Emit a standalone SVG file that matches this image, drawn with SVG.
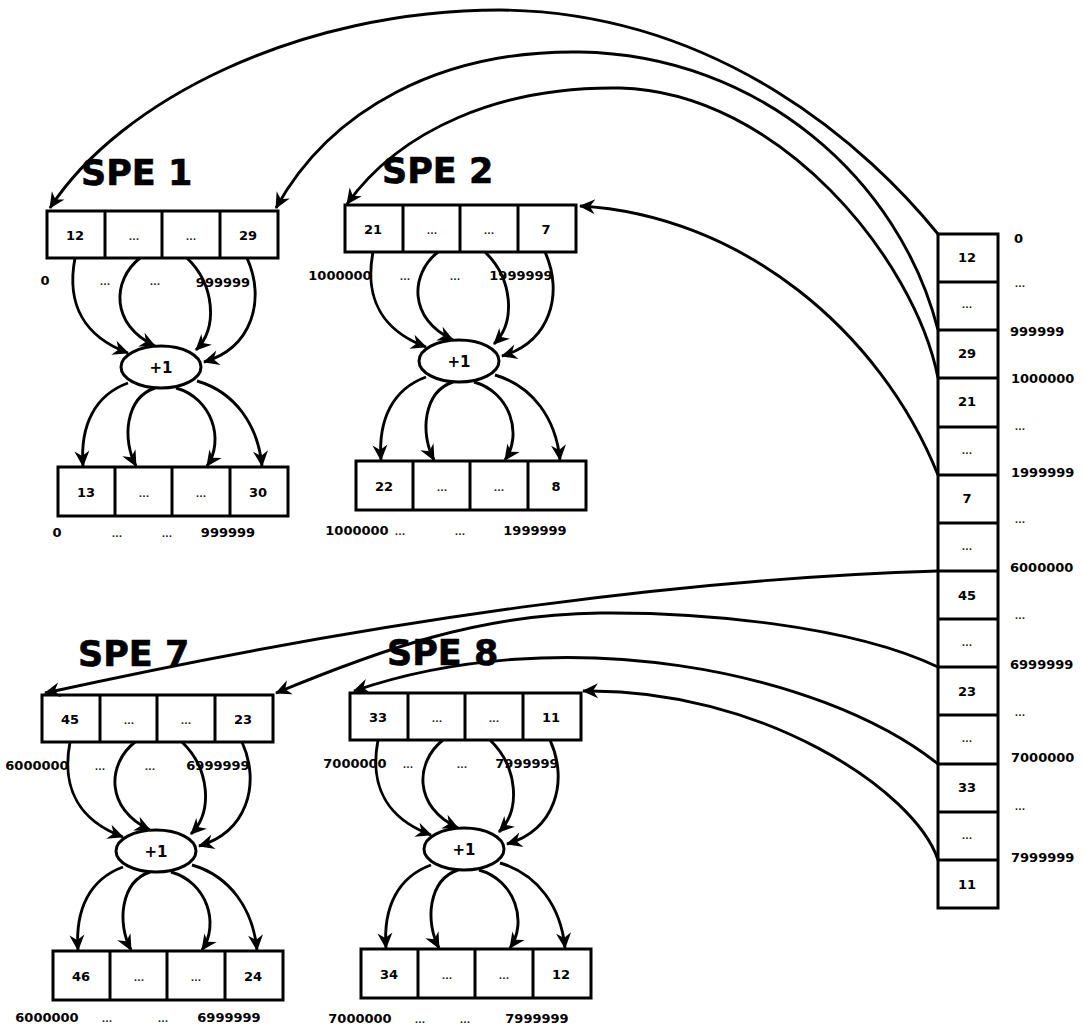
<svg xmlns="http://www.w3.org/2000/svg" xmlns:xlink="http://www.w3.org/1999/xlink" width="1084" height="1035" viewBox="0 0 1084 1035">
  <style>
    .box { fill: #fff; stroke: #000; stroke-width: 3; }
    .div { stroke: #000; stroke-width: 3; }
    .wire { fill: none; stroke: #000; stroke-width: 2.9; marker-end: url(#ah); }
    .num { font-family: "DejaVu Sans", "Liberation Sans", sans-serif; font-weight: bold; font-size: 13px; fill: #000; text-anchor: middle; }
    .op { font-family: "DejaVu Sans", "Liberation Sans", sans-serif; font-weight: bold; font-size: 15px; fill: #000; text-anchor: middle; }
    .dots { font-family: "DejaVu Sans", "Liberation Sans", sans-serif; font-weight: bold; font-size: 9px; fill: #222; text-anchor: middle; }
    .idx { font-family: "DejaVu Sans", "Liberation Sans", sans-serif; font-weight: bold; font-size: 13px; fill: #000; }
    .title { font-family: "DejaVu Sans", "Liberation Sans", sans-serif; font-weight: bold; font-size: 35px; fill: #000; stroke: #000; stroke-width: 0.6; }
  </style>
  <defs>
    <marker id="ah" viewBox="-17 -9 19 18" markerWidth="19" markerHeight="18" refX="0" refY="0" orient="auto" markerUnits="userSpaceOnUse">
      <path d="M1,0 L-15,-7.5 L-10,0 L-15,7.5 Z" fill="#000"/>
    </marker>
    <!-- one SPE: input row, "+1" kernel, output row and the flows between them -->
    <g id="spe-frame">
      <rect class="box" x="47" y="211" width="231" height="47"/>
      <line class="div" x1="105" y1="211" x2="105" y2="258"/>
      <line class="div" x1="162" y1="211" x2="162" y2="258"/>
      <line class="div" x1="220" y1="211" x2="220" y2="258"/>
      <rect class="box" x="58" y="467" width="230" height="49"/>
      <line class="div" x1="115" y1="467" x2="115" y2="516"/>
      <line class="div" x1="172" y1="467" x2="172" y2="516"/>
      <line class="div" x1="230" y1="467" x2="230" y2="516"/>
      <ellipse cx="161" cy="367" rx="40" ry="21" fill="#fff" stroke="#000" stroke-width="3"/>
      <text class="op" x="161" y="373">+1</text>
      <path class="wire" d="M75,258 C 66,305 85,337 128,353"/>
      <path class="wire" d="M140,258 C 112,280 110,325 155,346"/>
      <path class="wire" d="M187,258 C 215,285 218,328 196,350"/>
      <path class="wire" d="M247,258 C 266,300 252,348 204,362"/>
      <path class="wire" d="M128,383 C 95,395 80,425 83,466"/>
      <path class="wire" d="M155,388 C 125,398 122,440 136,466"/>
      <path class="wire" d="M176,388 C 212,398 225,440 207,466"/>
      <path class="wire" d="M197,381 C 235,392 258,425 262,466"/>
    </g>
  </defs>

  <rect width="1084" height="1035" fill="#fff"/>

  <!-- main array in memory -->
  <g id="main-array">
    <rect class="box" x="938" y="234" width="60" height="674"/>
    <g class="div">
      <line x1="938" y1="282" x2="998" y2="282"/>
      <line x1="938" y1="330" x2="998" y2="330"/>
      <line x1="938" y1="378" x2="998" y2="378"/>
      <line x1="938" y1="427" x2="998" y2="427"/>
      <line x1="938" y1="475" x2="998" y2="475"/>
      <line x1="938" y1="523" x2="998" y2="523"/>
      <line x1="938" y1="571" x2="998" y2="571"/>
      <line x1="938" y1="619" x2="998" y2="619"/>
      <line x1="938" y1="667" x2="998" y2="667"/>
      <line x1="938" y1="715" x2="998" y2="715"/>
      <line x1="938" y1="764" x2="998" y2="764"/>
      <line x1="938" y1="812" x2="998" y2="812"/>
      <line x1="938" y1="860" x2="998" y2="860"/>
    </g>
    <text class="num" x="967" y="262">12</text>
    <text class="dots" x="967" y="308">...</text>
    <text class="num" x="967" y="358">29</text>
    <text class="num" x="967" y="406">21</text>
    <text class="dots" x="967" y="454">...</text>
    <text class="num" x="967" y="503">7</text>
    <text class="dots" x="967" y="550">...</text>
    <text class="num" x="967" y="600">45</text>
    <text class="dots" x="967" y="646">...</text>
    <text class="num" x="967" y="696">23</text>
    <text class="dots" x="967" y="742">...</text>
    <text class="num" x="967" y="792">33</text>
    <text class="dots" x="967" y="839">...</text>
    <text class="num" x="967" y="889">11</text>

    <text class="idx" x="1014" y="243">0</text>
    <text class="dots" x="1020" y="287">...</text>
    <text class="idx" x="1010" y="336">999999</text>
    <text class="idx" x="1011" y="383">1000000</text>
    <text class="dots" x="1020" y="430">...</text>
    <text class="idx" x="1011" y="477">1999999</text>
    <text class="dots" x="1020" y="523">...</text>
    <text class="idx" x="1010" y="572">6000000</text>
    <text class="dots" x="1020" y="619">...</text>
    <text class="idx" x="1010" y="669">6999999</text>
    <text class="dots" x="1020" y="716">...</text>
    <text class="idx" x="1011" y="762">7000000</text>
    <text class="dots" x="1020" y="810">...</text>
    <text class="idx" x="1011" y="862">7999999</text>
  </g>

  <!-- SPE 1 -->
  <g id="spe1">
    <use xlink:href="#spe-frame" href="#spe-frame"/>
    <text class="title" x="81" y="185">SPE 1</text>
    <text class="num" x="75" y="240">12</text>
    <text class="dots" x="134" y="240">...</text>
    <text class="dots" x="191" y="240">...</text>
    <text class="num" x="248" y="240">29</text>
    <text class="num" x="86" y="497">13</text>
    <text class="dots" x="144" y="497">...</text>
    <text class="dots" x="201" y="497">...</text>
    <text class="num" x="258" y="497">30</text>
    <text class="num" x="45" y="285">0</text>
    <text class="dots" x="105" y="285">...</text>
    <text class="dots" x="155" y="285">...</text>
    <text class="num" x="223" y="287">999999</text>
    <text class="num" x="57" y="537">0</text>
    <text class="dots" x="117" y="537">...</text>
    <text class="dots" x="167" y="537">...</text>
    <text class="num" x="228" y="537">999999</text>
  </g>

  <!-- SPE 2 -->
  <g id="spe2" transform="translate(298,-6)">
    <use xlink:href="#spe-frame" href="#spe-frame"/>
    <text class="title" x="84" y="189">SPE 2</text>
    <text class="num" x="75" y="240">21</text>
    <text class="dots" x="134" y="240">...</text>
    <text class="dots" x="191" y="240">...</text>
    <text class="num" x="248" y="240">7</text>
    <text class="num" x="86" y="497">22</text>
    <text class="dots" x="144" y="497">...</text>
    <text class="dots" x="201" y="497">...</text>
    <text class="num" x="258" y="497">8</text>
    <text class="num" x="42" y="286">1000000</text>
    <text class="dots" x="107" y="286">...</text>
    <text class="dots" x="157" y="286">...</text>
    <text class="num" x="223" y="286">1999999</text>
    <text class="num" x="59" y="541">1000000</text>
    <text class="dots" x="102" y="541">...</text>
    <text class="dots" x="162" y="541">...</text>
    <text class="num" x="237" y="541">1999999</text>
  </g>

  <!-- SPE 7 -->
  <g id="spe7" transform="translate(-5,484)">
    <use xlink:href="#spe-frame" href="#spe-frame"/>
    <text class="title" x="83" y="182">SPE 7</text>
    <text class="num" x="75" y="240">45</text>
    <text class="dots" x="134" y="240">...</text>
    <text class="dots" x="191" y="240">...</text>
    <text class="num" x="248" y="240">23</text>
    <text class="num" x="86" y="497">46</text>
    <text class="dots" x="144" y="497">...</text>
    <text class="dots" x="201" y="497">...</text>
    <text class="num" x="258" y="497">24</text>
    <text class="num" x="42" y="286">6000000</text>
    <text class="dots" x="105" y="286">...</text>
    <text class="dots" x="155" y="286">...</text>
    <text class="num" x="223" y="286">6999999</text>
    <text class="num" x="52" y="538">6000000</text>
    <text class="dots" x="112" y="538">...</text>
    <text class="dots" x="168" y="538">...</text>
    <text class="num" x="234" y="538">6999999</text>
  </g>

  <!-- SPE 8 -->
  <g id="spe8" transform="translate(303,482)">
    <use xlink:href="#spe-frame" href="#spe-frame"/>
    <text class="title" x="84" y="183">SPE 8</text>
    <text class="num" x="75" y="240">33</text>
    <text class="dots" x="134" y="240">...</text>
    <text class="dots" x="191" y="240">...</text>
    <text class="num" x="248" y="240">11</text>
    <text class="num" x="86" y="497">34</text>
    <text class="dots" x="144" y="497">...</text>
    <text class="dots" x="201" y="497">...</text>
    <text class="num" x="258" y="497">12</text>
    <text class="num" x="52" y="286">7000000</text>
    <text class="dots" x="105" y="286">...</text>
    <text class="dots" x="159" y="286">...</text>
    <text class="num" x="224" y="286">7999999</text>
    <text class="num" x="57" y="541">7000000</text>
    <text class="dots" x="117" y="541">...</text>
    <text class="dots" x="162" y="541">...</text>
    <text class="num" x="234" y="541">7999999</text>
  </g>

  <!-- distribution of main-array slices to the SPEs -->
  <g id="connectors">
    <path class="wire" d="M938,234 C 870,150 720,12 500,10 C 300,10 120,100 50,208"/>
    <path class="wire" d="M938,330 C 900,180 760,55 580,52 C 440,50 330,110 276,208"/>
    <path class="wire" d="M938,378 C 915,260 780,92 620,88 C 500,86 400,130 347,204"/>
    <path class="wire" d="M938,475 C 880,330 740,215 580,206"/>
    <path class="wire" d="M938,571 C 700,578 400,615 45,693"/>
    <path class="wire" d="M938,667 C 850,625 700,612 600,613 C 480,614 380,650 276,693"/>
    <path class="wire" d="M938,764 C 820,670 560,620 354,691"/>
    <path class="wire" d="M938,860 C 915,790 760,688 583,691"/>
  </g>
</svg>
